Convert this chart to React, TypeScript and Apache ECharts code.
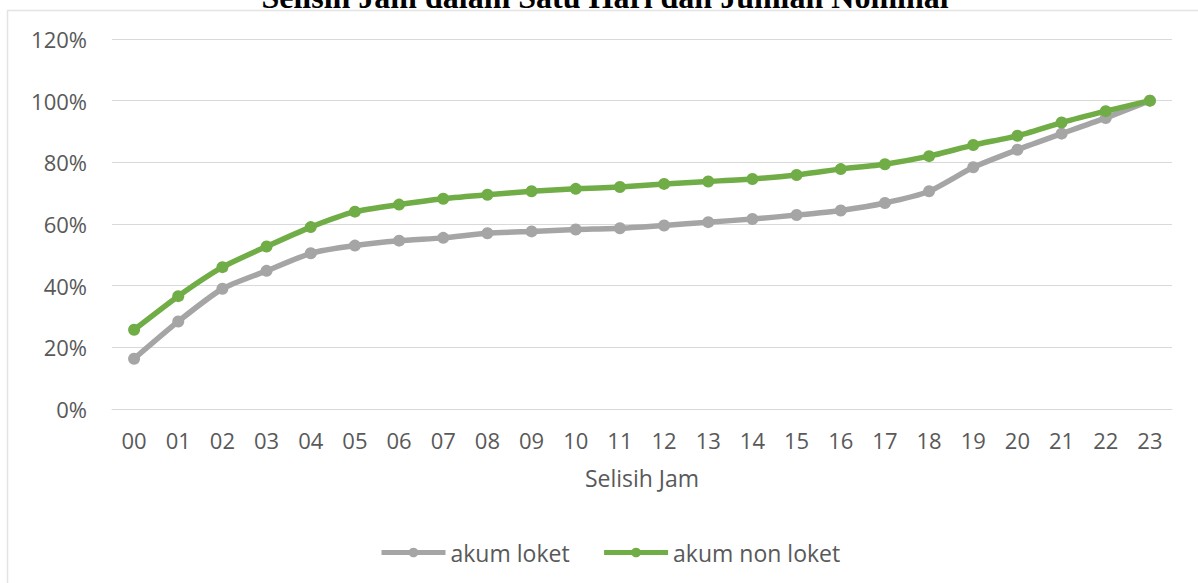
import React, { useEffect, useRef } from "react";
import * as echarts from "echarts";

const titleText = "Selisih Jam dalam Satu Hari dan Jumlah Nominal";
const hours = ["00", "01", "02", "03", "04", "05", "06", "07", "08", "09", "10", "11", "12", "13", "14", "15", "16", "17", "18", "19", "20", "21", "22", "23"];
const akumLoket = [16.3, 28.4, 39.0, 44.8, 50.5, 53.0, 54.6, 55.5, 57.0, 57.6, 58.2, 58.6, 59.5, 60.6, 61.6, 62.9, 64.4, 66.8, 70.6, 78.4, 84.1, 89.3, 94.4, 100];
const akumNonLoket = [25.7, 36.6, 46.0, 52.7, 59.0, 64.0, 66.3, 68.2, 69.5, 70.6, 71.4, 72.0, 73.0, 73.8, 74.6, 75.9, 77.8, 79.4, 82.0, 85.6, 88.6, 92.9, 96.6, 100];
const seriesNames = ["akum loket", "akum non loket"];
const yTicks = { min: 0, max: 120, interval: 20 };

const FONT = '"Open Sans", sans-serif';
const TXT = "#595959";
const GRID = "#d9d9d9";

export default function App() {
  const ref = useRef<HTMLDivElement>(null);
  useEffect(() => {
    if (!ref.current) return;
    const chart = echarts.init(ref.current, null, { renderer: "svg" });
    chart.setOption({
      animation: false,
      backgroundColor: "#ffffff",
      textStyle: { fontFamily: FONT },
      graphic: [
        {
          type: "text",
          x: 605,
          y: 13,
          silent: true,
          style: {
            text: titleText,
            textAlign: "center",
            textVerticalAlign: "bottom",
            font: 'bold 32px "Liberation Serif", serif',
            fill: "#000000",
          },
        },
        { type: "line", silent: true, shape: { x1: 7, y1: 10.5, x2: 1198, y2: 10.5 }, style: { stroke: "#e3e3e3", lineWidth: 1.5 } },
        { type: "line", silent: true, shape: { x1: 7.5, y1: 10, x2: 7.5, y2: 583 }, style: { stroke: "#e3e3e3", lineWidth: 1.5 } },
      ],
      grid: { left: 112, right: 26, top: 39, bottom: 174 },
      legend: {
        left: 374,
        top: 536,
        itemWidth: 64,
        itemHeight: 12,
        itemGap: 32,
        lineStyle: { width: 5 },
        textStyle: { fontSize: 23, color: TXT, fontFamily: FONT },
        data: seriesNames,
      },
      xAxis: {
        type: "category",
        data: hours,
        boundaryGap: true,
        axisTick: { show: false },
        axisLine: { lineStyle: { color: GRID, width: 1 } },
        axisLabel: { fontSize: 22, color: TXT, margin: 20, fontFamily: FONT, interval: 0 },
        name: "Selisih Jam",
        nameLocation: "middle",
        nameGap: 57,
        nameTextStyle: { fontSize: 23, color: TXT, fontFamily: FONT },
      },
      yAxis: {
        type: "value",
        min: yTicks.min,
        max: yTicks.max,
        interval: yTicks.interval,
        axisLine: { show: false },
        axisTick: { show: false },
        axisLabel: { fontSize: 22, color: TXT, margin: 25, fontFamily: FONT, formatter: "{value}%" },
        splitLine: { lineStyle: { color: GRID, width: 1 } },
      },
      series: [
        {
          name: seriesNames[0],
          type: "line",
          data: akumLoket,
          smooth: 0.2,
          symbol: "circle",
          symbolSize: 12,
          itemStyle: { color: "#A5A5A5" },
          lineStyle: { color: "#A5A5A5", width: 5.5 },
        },
        {
          name: seriesNames[1],
          type: "line",
          data: akumNonLoket,
          smooth: 0.2,
          symbol: "circle",
          symbolSize: 12,
          itemStyle: { color: "#70AD47" },
          lineStyle: { color: "#70AD47", width: 5.5 },
        },
      ],
    });
    return () => chart.dispose();
  }, []);
  return <div ref={ref} style={{ position: "absolute", left: 0, top: 0, width: 1198, height: 583 }} />;
}
